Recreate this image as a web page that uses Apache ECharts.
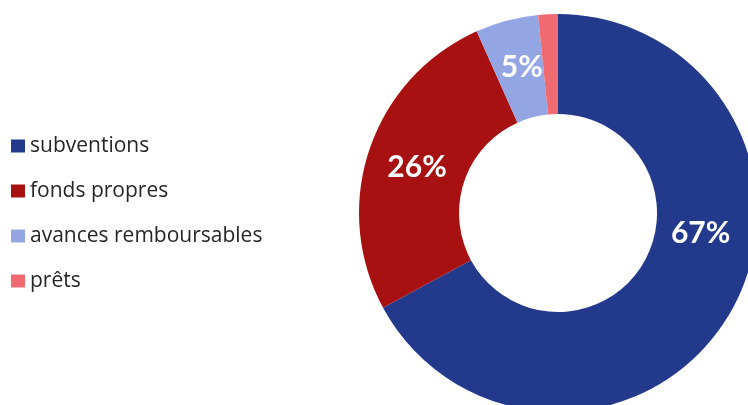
<!DOCTYPE html>
<html>
<head>
<meta charset="utf-8">
<script src="https://cdn.jsdelivr.net/npm/echarts@6/dist/echarts.min.js"></script>
<style>
  html, body { margin: 0; padding: 0; background: #ffffff; }
  #chart { width: 748px; height: 405px; }
</style>
</head>
<body>
<div id="chart"></div>
<script>
// Financing sources, share of total (%)
const categories = ['subventions', 'fonds propres', 'avances remboursables', 'prêts'];
const shares = [67.1, 26.2, 5.1, 1.6];
const colors = ['#233a8c', '#a81111', '#93a5e2', '#f06a72'];
// Smallest slice carries no label
const showLabel = [true, true, true, false];

const chart = echarts.init(document.getElementById('chart'), null, { renderer: 'canvas' });

const labelOffsets = [[12, -57], [3, 3], [3, 1], [0, 0]];

const data = categories.map((name, i) => ({
  name: name,
  value: shares[i],
  itemStyle: { color: colors[i] },
  label: { show: showLabel[i], offset: labelOffsets[i] }
}));

chart.setOption({
  animation: false,
  legend: {
    orient: 'vertical',
    left: 11,
    top: 135,
    padding: 0,
    icon: 'rect',
    itemWidth: 14,
    itemHeight: 13,
    itemGap: 23,
    selectedMode: false,
    data: categories,
    textStyle: {
      fontFamily: 'Open Sans',
      fontSize: 21,
      lineHeight: 22,
      color: '#262626'
    }
  },
  series: [{
    type: 'pie',
    center: [558, 213],
    radius: [99, 199],
    startAngle: 90,
    clockwise: true,
    avoidLabelOverlap: false,
    label: {
      position: 'inside',
      formatter: p => Math.round(p.value) + '%',
      color: '#ffffff',
      fontFamily: 'Lato',
      fontWeight: 'bold',
      fontSize: 30
    },
    labelLine: { show: false },
    emphasis: { disabled: true },
    itemStyle: { borderWidth: 0 },
    data: data
  }]
});
</script>
</body>
</html>
